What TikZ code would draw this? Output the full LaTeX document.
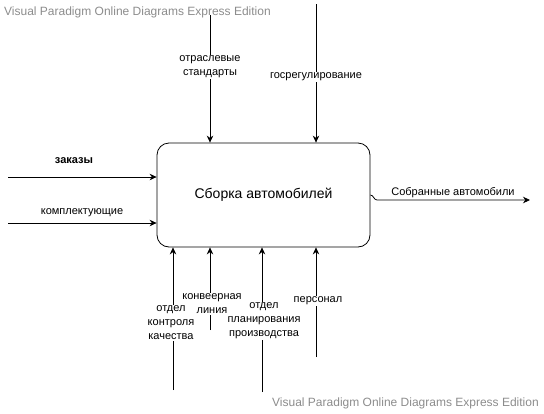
\documentclass[tikz,border=0pt]{standalone}
\usepackage{fontspec}
\setmainfont{Liberation Sans}
\usetikzlibrary{arrows.meta}
\begin{document}
\begin{tikzpicture}[x=1pt, y=-1pt,
    arr/.style={draw, line width=0.8pt, -{Stealth[length=7pt,width=6.5pt]}},
    lbl/.style={fill=white, inner sep=1pt, align=center, font=\fontsize{11}{14}\selectfont},
    wmark/.style={text=black!45, font=\fontsize{12}{14}\selectfont, inner sep=0pt}]
    \useasboundingbox (0,0) rectangle (544,413);
    % watermark
    \node[wmark, anchor=west](wm1) at (4,12) {Visual Paradigm Online Diagrams Express Edition};
    \node[wmark, anchor=west](wm2) at (272,403) {Visual Paradigm Online Diagrams Express Edition};
    % main block
    \node[draw, line width=0.8pt, rounded corners=12pt, minimum width=213pt, minimum height=104pt,
          font=\fontsize{14}{16}\selectfont](box) at (263.5,195) {Сборка автомобилей};

    \coordinate(t1) at (210,15);
    \coordinate(t2) at (316,4);
    \coordinate(in1) at (8,177);
    \coordinate(in2) at (8,223);
    \coordinate(out) at (530,200);
    \coordinate(b1) at (173,390);
    \coordinate(b2) at (210,330);
    \coordinate(b3) at (262,392);
    \coordinate(b4) at (316,357);

    % controls
    \draw[arr] (t1) -- (t1 |- box.north);
    \draw[arr] (t2) -- (t2 |- box.north);
    \node[lbl](l1) at (210,67) {отраслевые\\стандарты};
    \node[lbl](l2) at (316,77) {госрегулирование};

    % inputs
    \draw[arr] (in1) -- (in1 -| box.west);
    \draw[arr] (in2) -- (in2 -| box.west);
    \node[lbl, font=\fontsize{11}{14}\selectfont\bfseries](l3) at (74,161) {заказы};
    \node[lbl](l4) at (82,213) {комплектующие};

    % output
    \draw[arr] (box.east) to[out=0, in=180] (377,200) -- (out);
    \node[lbl](l5) at (453,193) {Собранные автомобили};

    % mechanisms
    \draw[arr] (b1) -- (b1 |- box.south);
    \draw[arr] (b2) -- (b2 |- box.south);
    \draw[arr] (b3) -- (b3 |- box.south);
    \draw[arr] (b4) -- (b4 |- box.south);
    \node[lbl](l7) at (212,304) {конвеерная\\линия};
    \node[lbl](l6) at (171,323) {отдел\\контроля\\качества};
    \node[lbl](l8) at (264,321) {отдел\\планирования\\производства};
    \node[lbl](l9) at (318,301) {персонал};
\end{tikzpicture}
\end{document}
